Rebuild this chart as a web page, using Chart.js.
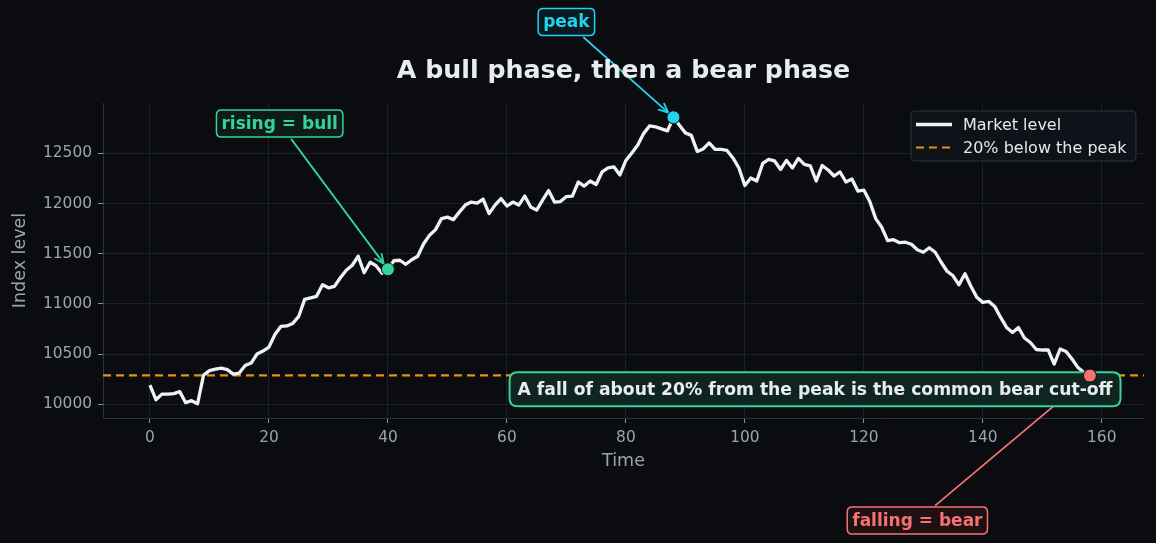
<!DOCTYPE html>
<html lang="en">
<head>
<meta charset="UTF-8">
<title>A bull phase, then a bear phase</title>
<script src="https://cdn.jsdelivr.net/npm/chart.js"></script>
<style>
  html, body { margin: 0; padding: 0; background: #0b0c10; }
</style>
</head>
<body>
<canvas id="chart" width="1156" height="543"></canvas>
<script>
// time steps and market level
const times = [
  0, 1, 2, 3, 4, 5, 6, 7, 8, 9, 10, 11, 12, 13, 14, 15, 16, 17, 18, 19,
  20, 21, 22, 23, 24, 25, 26, 27, 28, 29, 30, 31, 32, 33, 34, 35, 36, 37, 38, 39,
  40, 41, 42, 43, 44, 45, 46, 47, 48, 49, 50, 51, 52, 53, 54, 55, 56, 57, 58, 59,
  60, 61, 62, 63, 64, 65, 66, 67, 68, 69, 70, 71, 72, 73, 74, 75, 76, 77, 78, 79,
  80, 81, 82, 83, 84, 85, 86, 87, 88, 89, 90, 91, 92, 93, 94, 95, 96, 97, 98, 99,
  100, 101, 102, 103, 104, 105, 106, 107, 108, 109, 110, 111, 112, 113, 114, 115, 116, 117, 118, 119,
  120, 121, 122, 123, 124, 125, 126, 127, 128, 129, 130, 131, 132, 133, 134, 135, 136, 137, 138, 139,
  140, 141, 142, 143, 144, 145, 146, 147, 148, 149, 150, 151, 152, 153, 154, 155, 156, 157, 158
];
const level = [
  10190, 10045, 10100, 10100, 10105, 10125, 10015, 10035, 10005, 10290,
  10335, 10350, 10360, 10345, 10300, 10310, 10385, 10410, 10500, 10530,
  10570, 10695, 10775, 10780, 10805, 10875, 11045, 11060, 11075, 11190,
  11160, 11175, 11260, 11335, 11385, 11475, 11310, 11415, 11380, 11305,
  11345, 11430, 11435, 11395, 11440, 11475, 11600, 11685, 11740, 11850,
  11865, 11840, 11915, 11985, 12015, 12005, 12045, 11900, 11985, 12050,
  11975, 12015, 11985, 12075, 11965, 11935, 12035, 12130, 12015, 12020,
  12070, 12075, 12215, 12175, 12225, 12190, 12315, 12355, 12365, 12285,
  12430, 12505, 12585, 12700, 12775, 12765, 12745, 12725, 12860, 12780,
  12705, 12680, 12520, 12545, 12605, 12540, 12540, 12530, 12455, 12355,
  12180, 12255, 12225, 12400, 12440, 12425, 12340, 12430, 12355, 12450,
  12390, 12375, 12225, 12380, 12335, 12275, 12315, 12215, 12245, 12125,
  12135, 12020, 11850, 11765, 11630, 11640, 11610, 11615, 11595, 11540,
  11515, 11560, 11515, 11415, 11325, 11280, 11190, 11300, 11175, 11065,
  11015, 11025, 10975, 10865, 10765, 10715, 10765, 10660, 10615, 10545,
  10540, 10540, 10400, 10550, 10525, 10450, 10365, 10315, 10285
];
const xTicks = [0, 20, 40, 60, 80, 100, 120, 140, 160];
const yTicks = [10000, 10500, 11000, 11500, 12000, 12500];
const xLimits = [-7.9, 167.1];
const seriesNames = ['Market level', '20% below the peak'];

const risingIdx = 40;
const peakIdx = level.indexOf(Math.max(...level));
const lastIdx = level.length - 1;
const threshold = level[peakIdx] * 0.8;

// y axis keeps a 5% margin round the data
const yLo = Math.min(...level), yHi = Math.max(...level);
const yMin = yLo - 0.05 * (yHi - yLo), yMax = yHi + 0.05 * (yHi - yLo);

const BG = '#0b0c10';
const WHITE = '#eef1f5';
const ORANGE = '#e8920c';
const GREEN = '#34d399', CYAN = '#22d3ee', RED = '#f87171';
const TICK = '#9aa4b0';
const FONT = '"DejaVu Sans", Verdana, sans-serif';
const BOLD = 'bold 17px ' + FONT;

// callouts, placed in data units
const callouts = [
  { text: 'rising = bull', idx: risingIdx, at: [21.8, 12799], color: GREEN, fill: '#0d1c18' },
  { text: 'peak', idx: peakIdx, at: [70.0, 13810], color: CYAN, fill: '#0b1a20' },
  { text: 'falling = bear', idx: lastIdx, at: [129.0, 8840], color: RED, fill: '#1d1114' }
];
const note = { text: 'A fall of about 20% from the peak is the common bear cut-off', at: [111.8, 10149] };

function rrect(ctx, x, y, w, h, r) {
  ctx.beginPath();
  ctx.moveTo(x + r, y);
  ctx.lineTo(x + w - r, y);
  ctx.quadraticCurveTo(x + w, y, x + w, y + r);
  ctx.lineTo(x + w, y + h - r);
  ctx.quadraticCurveTo(x + w, y + h, x + w - r, y + h);
  ctx.lineTo(x + r, y + h);
  ctx.quadraticCurveTo(x, y + h, x, y + h - r);
  ctx.lineTo(x, y + r);
  ctx.quadraticCurveTo(x, y, x + r, y);
  ctx.closePath();
}

function labelBox(chart, c) {
  const ctx = chart.ctx;
  ctx.font = BOLD;
  const w = ctx.measureText(c.text).width + 10;
  const h = 27;
  const cx = chart.scales.x.getPixelForValue(c.at[0]);
  const cy = chart.scales.y.getPixelForValue(c.at[1]);
  return { cx, cy, w, h };
}

function arrow(ctx, x0, y0, x1, y1, color) {
  ctx.save();
  ctx.strokeStyle = color;
  ctx.lineWidth = 1.8;
  ctx.lineCap = 'round';
  ctx.lineJoin = 'round';
  ctx.beginPath();
  ctx.moveTo(x0, y0);
  ctx.lineTo(x1, y1);
  ctx.stroke();
  const a = Math.atan2(y1 - y0, x1 - x0), hl = 10, sp = 0.42;
  ctx.beginPath();
  ctx.moveTo(x1 - hl * Math.cos(a - sp), y1 - hl * Math.sin(a - sp));
  ctx.lineTo(x1, y1);
  ctx.lineTo(x1 - hl * Math.cos(a + sp), y1 - hl * Math.sin(a + sp));
  ctx.stroke();
  ctx.restore();
}

const decor = {
  id: 'decor',
  afterDatasetDraw(chart, args) {
    if (args.index !== 1) return;
    const ctx = chart.ctx;
    const xs = chart.scales.x, ys = chart.scales.y;

    // arrows from each callout to its point
    callouts.forEach(c => {
      const b = labelBox(chart, c);
      const tx = xs.getPixelForValue(times[c.idx]);
      const ty = ys.getPixelForValue(level[c.idx]);
      const dx = tx - b.cx, dy = ty - b.cy;
      const len = Math.hypot(dx, dy);
      const ux = dx / len, uy = dy / len;
      const t = Math.min((b.w / 2) / Math.abs(dx), (b.h / 2) / Math.abs(dy));
      const sx = b.cx + dx * t + ux * 3, sy = b.cy + dy * t + uy * 3;
      arrow(ctx, sx, sy, tx - ux * 7, ty - uy * 7, c.color);
    });

    // the note box sits over the threshold line
    ctx.save();
    ctx.font = 'bold 17.2px ' + FONT;
    const nw = ctx.measureText(note.text).width + 16;
    const nh = 34;
    const ncx = xs.getPixelForValue(note.at[0]);
    const ncy = ys.getPixelForValue(note.at[1]);
    rrect(ctx, ncx - nw / 2, ncy - nh / 2, nw, nh, 8);
    ctx.fillStyle = '#0f2620';
    ctx.fill();
    ctx.lineWidth = 2;
    ctx.strokeStyle = GREEN;
    ctx.stroke();
    ctx.fillStyle = '#e8ecf0';
    ctx.textAlign = 'center';
    ctx.textBaseline = 'middle';
    ctx.fillText(note.text, ncx, ncy + 1);
    ctx.restore();
  },
  afterDraw(chart) {
    const ctx = chart.ctx;
    const area = chart.chartArea;

    // title
    ctx.save();
    ctx.font = 'bold 25.3px ' + FONT;
    ctx.fillStyle = '#e8ecf1';
    ctx.textAlign = 'center';
    ctx.textBaseline = 'middle';
    ctx.fillText('A bull phase, then a bear phase', (area.left + area.right) / 2, 71);
    ctx.restore();

    // callout labels
    callouts.forEach(c => {
      const b = labelBox(chart, c);
      ctx.save();
      rrect(ctx, b.cx - b.w / 2, b.cy - b.h / 2, b.w, b.h, 5);
      ctx.fillStyle = c.fill;
      ctx.fill();
      ctx.lineWidth = 1.5;
      ctx.strokeStyle = c.color;
      ctx.stroke();
      ctx.font = BOLD;
      ctx.fillStyle = c.color;
      ctx.textAlign = 'center';
      ctx.textBaseline = 'middle';
      ctx.fillText(c.text, b.cx, b.cy + 1);
      ctx.restore();
    });

    // legend, top right inside the plot
    const lw = 225, lh = 50;
    const lx = area.right - 8 - lw, ly = area.top + 8;
    ctx.save();
    rrect(ctx, lx, ly, lw, lh, 4);
    ctx.fillStyle = '#0e131a';
    ctx.fill();
    ctx.lineWidth = 1;
    ctx.strokeStyle = '#2a3441';
    ctx.stroke();
    const ds = chart.data.datasets;
    [ds[1], ds[0]].forEach((d, i) => {
      const ry = ly + 13.5 + i * 23;
      ctx.beginPath();
      ctx.setLineDash(d.borderDash || []);
      ctx.strokeStyle = d.borderColor;
      ctx.lineWidth = d.borderWidth;
      ctx.moveTo(lx + 5, ry);
      ctx.lineTo(lx + 41, ry);
      ctx.stroke();
      ctx.setLineDash([]);
      ctx.font = '16px ' + FONT;
      ctx.fillStyle = '#e5e8ec';
      ctx.textAlign = 'left';
      ctx.textBaseline = 'middle';
      ctx.fillText(d.label, lx + 52, ry + 1);
    });
    ctx.restore();
  }
};

const axisCommon = {
  type: 'linear',
  border: { color: '#2a3441', width: 1 },
  grid: { color: '#1a212a', lineWidth: 1, tickColor: '#8a94a0', tickLength: 5 },
  ticks: {
    color: TICK,
    font: { family: FONT, size: 15.4 },
    padding: 6,
    includeBounds: false,
    callback: v => String(v)
  }
};

new Chart(document.getElementById('chart'), {
  type: 'line',
  data: {
    datasets: [
      {
        label: seriesNames[1],
        data: [{ x: xLimits[0], y: threshold }, { x: xLimits[1], y: threshold }],
        borderColor: ORANGE,
        borderWidth: 2.2,
        borderDash: [8, 5],
        pointRadius: 0,
        order: 2
      },
      {
        label: seriesNames[0],
        data: times.map((t, i) => ({ x: t, y: level[i] })),
        borderColor: WHITE,
        borderWidth: 3.3,
        borderJoinStyle: 'round',
        pointRadius: 0,
        tension: 0,
        order: 1
      },
      {
        type: 'scatter',
        label: 'marks',
        data: callouts.map(c => ({ x: times[c.idx], y: level[c.idx] })),
        pointRadius: 6.5,
        pointBackgroundColor: callouts.map(c => c.color),
        pointBorderColor: BG,
        pointBorderWidth: 1,
        showLine: false,
        order: 0
      }
    ]
  },
  options: {
    responsive: false,
    animation: false,
    devicePixelRatio: 1,
    layout: { padding: { top: 103, right: 12, bottom: 60, left: 0 } },
    plugins: {
      legend: { display: false },
      title: { display: false },
      tooltip: { enabled: false }
    },
    scales: {
      x: {
        ...axisCommon,
        min: xLimits[0],
        max: xLimits[1],
        ticks: { ...axisCommon.ticks, stepSize: 20 },
        afterBuildTicks: s => { s.ticks = xTicks.map(v => ({ value: v })); },
        title: { display: true, text: 'Time', color: TICK, font: { family: FONT, size: 17.5 }, padding: { top: 4, bottom: 11 } },
        afterFit: s => { s.height = 65; }
      },
      y: {
        ...axisCommon,
        min: yMin,
        max: yMax,
        ticks: { ...axisCommon.ticks, stepSize: 500 },
        afterBuildTicks: s => { s.ticks = yTicks.map(v => ({ value: v })); },
        title: { display: true, text: 'Index level', color: TICK, font: { family: FONT, size: 17.5 }, padding: { top: 9.5, bottom: 0 } },
        afterFit: s => { s.width = 103; }
      }
    }
  },
  plugins: [decor]
});
</script>
</body>
</html>
